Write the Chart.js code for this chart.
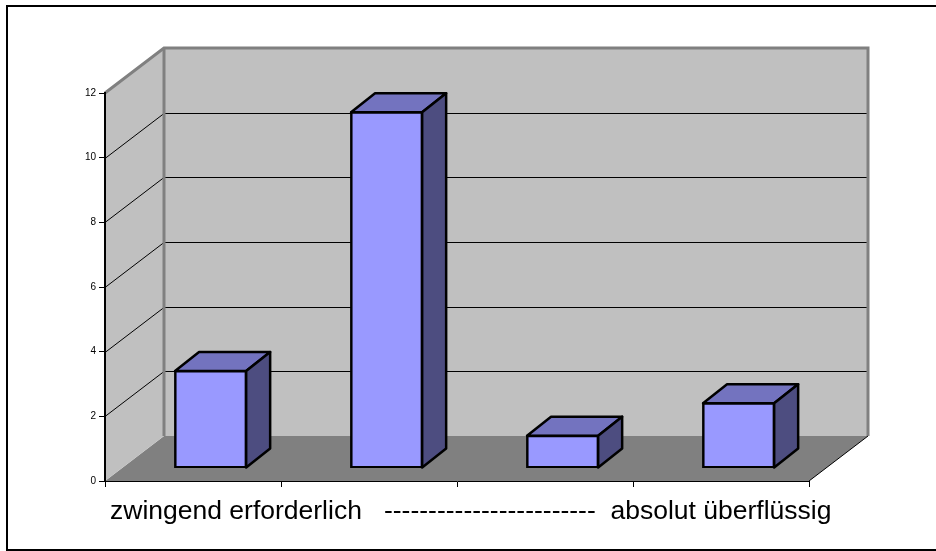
<!DOCTYPE html>
<html><head><meta charset="utf-8">
<style>html,body{margin:0;padding:0;background:#fff}#w{width:936px;height:551px}canvas{display:block}</style>
<script src="https://cdn.jsdelivr.net/npm/chart.js@4"></script>
</head><body><div id="w"><canvas id="c" width="936" height="551"></canvas></div>
<script>
const categories = ['1','2','3','4'];
const values = [3, 11, 1, 2];
const yTicks = [0,2,4,6,8,10,12];
const axisTitle = 'zwingend erforderlich   ------------------------  absolut überflüssig';

const wallDepth = {dx:59, dy:-45};
const barShift = {dx:17.6, dy:-13};
const barDepth = {dx:24, dy:-19};

const scene = {
  id:'scene',
  beforeDraw(chart){
    const {ctx, scales:{x,y}} = chart;
    const L=x.left,R=x.right,T=y.getPixelForValue(12),B=y.getPixelForValue(0);
    const dx=wallDepth.dx,dy=wallDepth.dy;
    ctx.save();
    ctx.strokeStyle='#000';ctx.lineWidth=2;
    ctx.strokeRect(7,6,940,544);
    poly(ctx,[[L,B],[L+dx,B+dy],[R+dx,B+dy],[R,B]],'#808080');
    poly(ctx,[[L,T],[L+dx,T+dy],[L+dx,B+dy],[L,B]],'#C0C0C0');
    poly(ctx,[[L+dx,T+dy],[R+dx,T+dy],[R+dx,B+dy],[L+dx,B+dy]],'#C0C0C0');
    ctx.strokeStyle='#000';ctx.lineWidth=1;
    yTicks.forEach(t=>{
      if(t===0||t===12) return;
      const v=y.getPixelForValue(t);
      const p=Math.round(v)+0.5, q=Math.round(v+dy)+0.5;
      line(ctx,[[L,p],[L+dx,q],[R+dx,q]]);
    });
    ctx.strokeStyle='#808080';ctx.lineWidth=3;ctx.lineJoin='miter';
    line(ctx,[[L,T],[L+dx,T+dy],[R+dx,T+dy],[R+dx,B+dy]]);
    line(ctx,[[L+dx,T+dy],[L+dx,B+dy]]);
    ctx.strokeStyle='#000';ctx.lineWidth=1;
    line(ctx,[[R,B],[R+dx,B+dy]]);
    ctx.restore();
  },
  beforeDatasetsDraw(chart){
    const {ctx} = chart;
    ctx.save();
    ctx.translate(barShift.dx,barShift.dy);
    const d=barDepth;
    chart.getDatasetMeta(0).data.forEach(b=>{
      const l=b.x-b.width/2,r=b.x+b.width/2,t=b.y,bt=b.base;
      ctx.lineWidth=2.5;ctx.strokeStyle='#000';ctx.lineJoin='round';
      poly(ctx,[[l,t],[l+d.dx,t+d.dy],[r+d.dx,t+d.dy],[r,t]],'#7373BF',true);
      poly(ctx,[[r,t],[r+d.dx,t+d.dy],[r+d.dx,bt+d.dy],[r,bt]],'#4D4D80',true);
    });
  },
  afterDatasetsDraw(chart){ chart.ctx.restore(); },
  afterDraw(chart){
    const {ctx}=chart;
    ctx.save();
    ctx.fillStyle='#000';
    ctx.font='26.5px "Liberation Sans"';
    ctx.textAlign='left';ctx.textBaseline='alphabetic';
    ctx.fillText(axisTitle,110,519);
    ctx.restore();
  }
};
function poly(ctx,pts,fill,stroke){
  ctx.beginPath();pts.forEach((p,i)=>i?ctx.lineTo(p[0],p[1]):ctx.moveTo(p[0],p[1]));ctx.closePath();
  ctx.fillStyle=fill;ctx.fill();if(stroke)ctx.stroke();
}
function line(ctx,pts){
  ctx.beginPath();pts.forEach((p,i)=>i?ctx.lineTo(p[0],p[1]):ctx.moveTo(p[0],p[1]));ctx.stroke();
}

new Chart(document.getElementById('c'),{
  type:'bar',
  data:{labels:categories,datasets:[{data:values,backgroundColor:'#9999FF',borderColor:'#000',borderWidth:2.5,borderSkipped:false,inflateAmount:1,barPercentage:0.404,categoryPercentage:1}]},
  plugins:[scene],
  options:{
    responsive:false,animation:false,
    layout:{padding:{left:0,top:93,right:127,bottom:0}},
    plugins:{legend:{display:false},tooltip:{enabled:false},title:{display:false}},
    scales:{
      x:{
        afterFit(s){s.height=70;},
        grid:{drawOnChartArea:false,drawTicks:true,tickLength:6,color:'#000',offset:true},
        border:{color:'#000',width:1},
        ticks:{display:false}
      },
      y:{
        min:0,max:12,
        afterFit(s){s.width=105;},
        afterBuildTicks(s){s.ticks=yTicks.map(v=>({value:v}));},
        grid:{drawOnChartArea:false,drawTicks:true,tickLength:6,color:'#000'},
        border:{color:'#000',width:2},
        ticks:{color:'#000',padding:3,font:{family:'"Liberation Sans"',size:10}}
      }
    }
  }
});
</script></body></html>
